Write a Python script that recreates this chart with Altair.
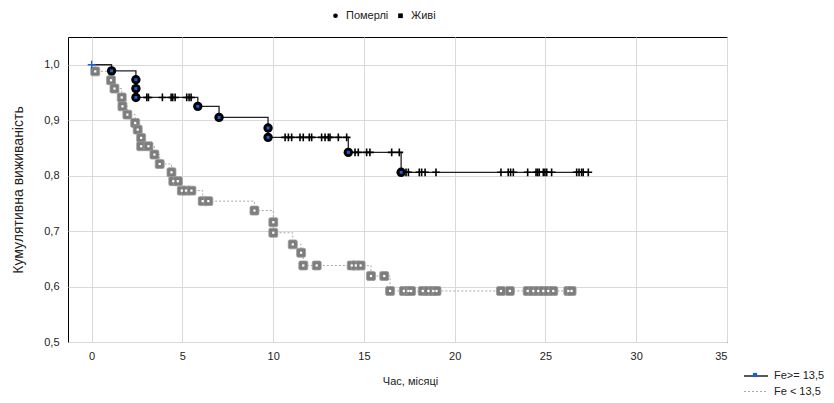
import altair as alt
import pandas as pd

# ---------------- data ----------------
# Fe >= 13,5 : deaths (filled circles)
hi_death_t = [1.1, 2.44, 2.44, 2.44, 5.85, 7.02, 9.72, 9.72, 14.14, 17.05]
hi_death_s = [0.989, 0.973, 0.957, 0.941, 0.925, 0.905, 0.886, 0.869, 0.842, 0.806]
# Fe >= 13,5 : censored ("+")
hi_cens_t = [3.04, 3.13, 3.9, 4.38, 4.47, 4.6, 5.24, 5.37, 5.48,
             10.66, 10.84, 11.02, 11.48, 11.66, 11.99, 12.12, 12.67, 12.86, 13.04, 13.13, 13.59, 14.05,
             14.51, 14.69, 15.15, 15.33, 16.53, 16.95,
             17.32, 17.45, 18.05, 18.18, 18.37, 18.97, 22.55, 22.95, 23.08, 23.23, 24.02, 24.48,
             24.57, 24.66, 24.88, 24.97, 25.07, 25.34, 26.72, 26.85, 26.99, 27.08, 27.36]
hi_cens_s = [0.941] * 9 + [0.869] * 13 + [0.842] * 6 + [0.806] * 23

# Fe < 13,5 : all markers (grey squares)
lo_t = [0.2, 1.07, 1.26, 1.66, 1.70, 1.97, 2.40, 2.54, 2.73, 2.73, 3.13, 3.46, 3.75,
        4.40, 4.50, 4.75, 4.97, 5.20, 5.50, 6.12, 6.43, 8.97, 10.01, 10.01, 11.08, 11.54,
        11.66, 12.40, 14.33, 14.55, 14.82, 15.39, 16.12, 16.44,
        17.2, 17.45, 17.6, 18.24, 18.55, 18.82, 19.0, 22.55, 23.04, 24.02, 24.33, 24.6,
        24.88, 25.15, 25.43, 26.26, 26.44]
lo_s = [0.988, 0.972, 0.957, 0.941, 0.925, 0.910, 0.895, 0.883, 0.868, 0.853, 0.853, 0.838, 0.821,
        0.806, 0.790, 0.790, 0.773, 0.773, 0.773, 0.754, 0.754, 0.737, 0.716, 0.697, 0.676, 0.661,
        0.638, 0.638, 0.638, 0.638, 0.638, 0.619, 0.619, 0.592] + [0.592] * 17

start_t = [0.0]
start_s = [1.0]

x_ticks = [0, 5, 10, 15, 20, 25, 30, 35]
y_ticks = [0.5, 0.6, 0.7, 0.8, 0.9, 1.0]

groups = ["Fe>= 13,5", "Fe < 13,5"]
status = ["Померлі", "Живі"]

FONT = "Liberation Sans"

# ---------------- tables ----------------
def step_table(ts, ss, g):
    pts = sorted(zip(ts, ss), key=lambda p: (p[0], -p[1]))
    df = pd.DataFrame({"t": start_t + [p[0] for p in pts], "s": start_s + [p[1] for p in pts]})
    df["i"] = range(len(df))
    df["g"] = g
    return df

lines = pd.concat([step_table(hi_death_t + hi_cens_t, hi_death_s + hi_cens_s, groups[0]),
                   step_table(lo_t, lo_s, groups[1])], ignore_index=True)

hi_death = pd.DataFrame({"t": hi_death_t, "s": hi_death_s, "st": status[0]})
hi_cens = pd.DataFrame({"t": hi_cens_t, "s": hi_cens_s, "st": status[1]})
hi_events = pd.concat([hi_death, hi_cens], ignore_index=True)
lo_marks = pd.DataFrame({"t": lo_t, "s": lo_s})
hi_start = pd.DataFrame({"t": start_t, "s": start_s, "g": groups[0]})

# ---------------- encodings ----------------
X = alt.X("t:Q",
          scale=alt.Scale(domain=[-1.3, 35], nice=False, zero=False),
          axis=alt.Axis(values=x_ticks, title="Час, місяці", labelFontSize=11,
                        labelFont=FONT, labelColor="#222", labelPadding=8,
                        titleFont=FONT, titleFontSize=11, titleFontWeight="normal",
                        titleColor="#222", titlePadding=14, titleX=342,
                        grid=True, gridColor="#d9d9d9", ticks=False, domain=False))
Y = alt.Y("s:Q",
          scale=alt.Scale(domain=[0.5, 1.05], nice=False, zero=False),
          axis=alt.Axis(values=y_ticks, labelExpr="replace(format(datum.value, '.1f'), '.', ',')",
                        title="Кумулятивна виживаність", labelFontSize=11, labelFont=FONT,
                        labelColor="#222", labelPadding=9,
                        titleFont=FONT, titleFontSize=14, titleFontWeight="normal",
                        titleColor="#222", titlePadding=18,
                        grid=True, gridColor="#d9d9d9", ticks=False, domain=False))

LEG_X, LEG_Y = 681, 332
line_sym = "M-2,0H2"
grp_leg = alt.Legend(orient="none", legendX=LEG_X, legendY=LEG_Y, direction="vertical",
                     title=None, symbolType=line_sym, symbolSize=144, symbolStrokeWidth=1,
                     labelFont=FONT, labelFontSize=11, labelColor="#222",
                     rowPadding=4, labelOffset=11)

line_layer = alt.Chart(lines).mark_line(interpolate="step-after").encode(
    x=X, y=Y, order="i:Q",
    color=alt.Color("g:N", scale=alt.Scale(domain=groups, range=["#222222", "#a8a8a8"]),
                    legend=grp_leg),
    strokeDash=alt.StrokeDash("g:N", scale=alt.Scale(domain=groups, range=[[1, 0], [2, 2]]),
                              legend=grp_leg),
    strokeWidth=alt.StrokeWidth("g:N", scale=alt.Scale(domain=groups, range=[1.3, 1]),
                                legend=None),
)

# blue square that sits on the first legend line (no label of its own)
blue_leg = alt.Legend(orient="none", legendX=LEG_X, legendY=LEG_Y, direction="vertical",
                      title=None, symbolType="M-0.35,-0.35H0.35V0.35H-0.35Z", symbolSize=144,
                      symbolStrokeWidth=0, symbolOpacity=1, labelExpr="''",
                      labelFont=FONT, labelFontSize=11, labelColor="#222",
                      rowPadding=4, labelOffset=11)
blue_layer = alt.Chart(hi_start).mark_point(opacity=0, filled=True).encode(
    x=X, y=Y,
    fill=alt.Fill("g:N", scale=alt.Scale(domain=[groups[0]], range=["#1a5fd8"]), legend=blue_leg))

square_path = ("M-0.65,-1H0.65Q1,-1 1,-0.65V0.65Q1,1 0.65,1H-0.65Q-1,1 -1,0.65"
               "V-0.65Q-1,-1 -0.65,-1Z")
lo_sq = alt.Chart(lo_marks).mark_point(
    shape=square_path, filled=True, size=80, fill="#7d7d7d", stroke="#9a9a9a",
    strokeWidth=0.8, opacity=1
).encode(x=X, y=Y)
lo_dot = alt.Chart(lo_marks).mark_point(
    shape="square", filled=True, size=5, color="#ffffff", opacity=1
).encode(x=X, y=Y)

plus_path = "M-1,0H1M0,-1V1"
hi_plus = alt.Chart(hi_cens).mark_point(
    shape=plus_path, size=60, stroke="#000", strokeWidth=1.6, opacity=1, filled=False
).encode(x=X, y=Y)
hi_circ = alt.Chart(hi_death).mark_point(
    shape="circle", filled=True, size=88, fill="#000", strokeWidth=0, opacity=1
).encode(x=X, y=Y)
hi_dot = alt.Chart(hi_death).mark_point(
    shape="square", filled=True, size=9, color="#1a5fd8", opacity=1
).encode(x=X, y=Y)
hi_first = alt.Chart(hi_start).mark_point(
    shape=plus_path, size=60, stroke="#1a5fd8", strokeWidth=1.3, opacity=1, filled=False
).encode(x=X, y=Y)

# top legend (status)
status_leg = alt.Legend(orient="none", legendX=262, legendY=-27, direction="horizontal",
                        title=None, symbolFillColor="#000", symbolStrokeColor="#000",
                        symbolOpacity=1, symbolSize=22, symbolStrokeWidth=0,
                        labelFont=FONT, labelFontSize=11, labelColor="#222",
                        columnPadding=6, labelOffset=5)
status_layer = alt.Chart(hi_events).mark_point(opacity=0, filled=True, color="#000").encode(
    x=X, y=Y,
    shape=alt.Shape("st:N", scale=alt.Scale(domain=status, range=["circle", "square"]),
                    legend=status_leg))

chart = alt.layer(
    line_layer, lo_sq, lo_dot, hi_plus, hi_circ, hi_dot, hi_first,
    status_layer, blue_layer
).resolve_scale(fill="independent").properties(
    width=659, height=305,
    autosize=alt.AutoSizeParams(type="none"),
    padding={"left": 68, "top": 37, "right": 107, "bottom": 61},
    background="#ffffff",
).configure_view(stroke="#000000", strokeWidth=1)

chart.save("out.html", embed_options={"renderer": "svg", "actions": False})
